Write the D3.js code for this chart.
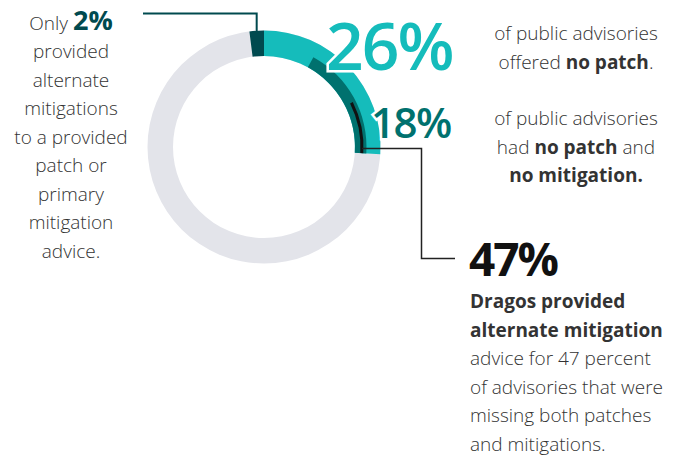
<!DOCTYPE html>
<html>
<head>
<meta charset="utf-8">
<script src="https://cdn.jsdelivr.net/npm/d3@7"></script>
<style>
  html, body { margin: 0; padding: 0; background: #fff; }
  svg { display: block; }
  text { font-family: "Open Sans", "Noto Sans", sans-serif; }
</style>
</head>
<body>
<svg id="chart" width="686" height="459"></svg>
<script>
// ---- data ----
const onlyAltPct = 2;          // provided alternate mitigations to a provided patch
const noPatchPct = 26;         // advisories offered no patch
const noPatchNoMitPct = 18;    // advisories with no patch and no mitigation
const dragosAltPct = 47;       // share of the 18% for which Dragos provided alternate advice
const bigLabels = ["2%", "26%", "18%", "47%"];

const leftLines = ["provided", "alternate", "mitigations", "to a provided", "patch or", "primary", "mitigation", "advice."];
const topRightLines = [
  [{t: "of public advisories", b: false}],
  [{t: "offered ", b: false}, {t: "no patch", b: true}, {t: ".", b: false}]
];
const midRightLines = [
  [{t: "of public advisories", b: false}],
  [{t: "had ", b: false}, {t: "no patch", b: true}, {t: " and", b: false}],
  [{t: "no mitigation.", b: true}]
];
const bottomBold = ["Dragos provided", "alternate mitigation"];
const bottomLight = ["advice for 47 percent", "of advisories that were", "missing both patches", "and mitigations."];

// ---- layout ----
const svg = d3.select("#chart");
const cx = 264, cy = 147;
const R = 116.5, r0 = 91, rMid = 102.5;
const C = {
  gray: "#e3e4ea", teal: "#15bcbb", darkTeal: "#00716e", darkest: "#004a4f",
  text: "#333333", black: "#111"
};

const ang = d3.scaleLinear().domain([0, 100]).range([0, 2 * Math.PI]);
const g = svg.append("g").attr("transform", `translate(${cx},${cy})`);
const arc = d3.arc();

// background ring
g.append("path").attr("d", arc({innerRadius: r0, outerRadius: R, startAngle: 0, endAngle: ang(100)}))
  .attr("fill", C.gray);
// 2% segment (just left of top)
g.append("path").attr("d", arc({innerRadius: r0, outerRadius: R, startAngle: ang(-onlyAltPct), endAngle: ang(0)}))
  .attr("fill", C.darkest);
// 26% segment
g.append("path").attr("d", arc({innerRadius: r0, outerRadius: R, startAngle: ang(0), endAngle: ang(noPatchPct)}))
  .attr("fill", C.teal);
// 18% segment (inner band, ending with the 26%)
g.append("path").attr("d", arc({innerRadius: r0, outerRadius: rMid, startAngle: ang(noPatchPct - noPatchNoMitPct), endAngle: ang(noPatchPct)}))
  .attr("fill", C.darkTeal);
// 47% of the 18%
const blackStart = noPatchPct - noPatchNoMitPct * dragosAltPct / 100;
g.append("path").attr("d", arc({innerRadius: 96.5, outerRadius: 99.5, startAngle: ang(blackStart), endAngle: ang(noPatchPct)}))
  .attr("fill", C.black);

// ---- connectors ----
const topX = cx + R * Math.sin(ang(-onlyAltPct / 2));
svg.append("path")
  .attr("d", `M143,13.5 H${topX} V${cy - R + 2}`)
  .attr("fill", "none").attr("stroke", C.darkest).attr("stroke-width", 2);

const bx = cx + 98;
svg.append("path")
  .attr("d", `M${bx},148.5 H421.5 V258.5 H455`)
  .attr("fill", "none").attr("stroke", "#222").attr("stroke-width", 1.5);

// ---- big numbers ----
svg.append("text").attr("x", 326).attr("y", 70)
  .attr("font-size", 66).attr("font-weight", 600).attr("fill", C.teal)
  .attr("stroke", "#fff").attr("stroke-width", 5).attr("paint-order", "stroke")
  .attr("letter-spacing", -2)
  .text(bigLabels[1]);
svg.append("text").attr("x", 371).attr("y", 138)
  .attr("font-size", 42).attr("font-weight", 600).attr("fill", C.darkTeal)
  .attr("stroke", "#fff").attr("stroke-width", 5).attr("paint-order", "stroke")
  .attr("letter-spacing", -1.5)
  .text(bigLabels[2]);
svg.append("text").attr("x", 469).attr("y", 276)
  .attr("font-size", 46).attr("font-weight", 700).attr("fill", C.black)
  .attr("letter-spacing", -2)
  .text(bigLabels[3]);

// ---- left text ----
const FS = 19;
const lt = svg.append("text").attr("text-anchor", "middle").attr("fill", C.text)
  .attr("font-size", FS).attr("font-weight", 300);
const first = lt.append("tspan").attr("x", 71).attr("y", 30);
first.append("tspan").text("Only ");
first.append("tspan").attr("font-size", 27).attr("font-weight", 700).attr("fill", C.darkest).text(bigLabels[0]);
leftLines.forEach((s, i) => {
  lt.append("tspan").attr("x", 71).attr("y", 58 + i * 28.5).text(s);
});

// ---- right text blocks ----
function centered(lines, x, y0, lh) {
  const t = svg.append("text").attr("text-anchor", "middle").attr("fill", C.text)
    .attr("font-size", FS).attr("font-weight", 300);
  lines.forEach((parts, i) => {
    const line = t.append("tspan").attr("x", x).attr("y", y0 + i * lh);
    parts.forEach(p => line.append("tspan").attr("font-weight", p.b ? 700 : 300).text(p.t));
  });
}
centered(topRightLines, 576, 40, 28.5);
centered(midRightLines, 576, 125, 28.5);

const bt = svg.append("text").attr("fill", C.text).attr("font-size", FS);
bottomBold.forEach((s, i) => bt.append("tspan").attr("x", 470).attr("y", 308 + i * 28.6).attr("font-weight", 700).text(s));
bottomLight.forEach((s, i) => bt.append("tspan").attr("x", 470).attr("y", 308 + (i + 2) * 28.6).attr("font-weight", 300).text(s));
</script>
</body>
</html>
